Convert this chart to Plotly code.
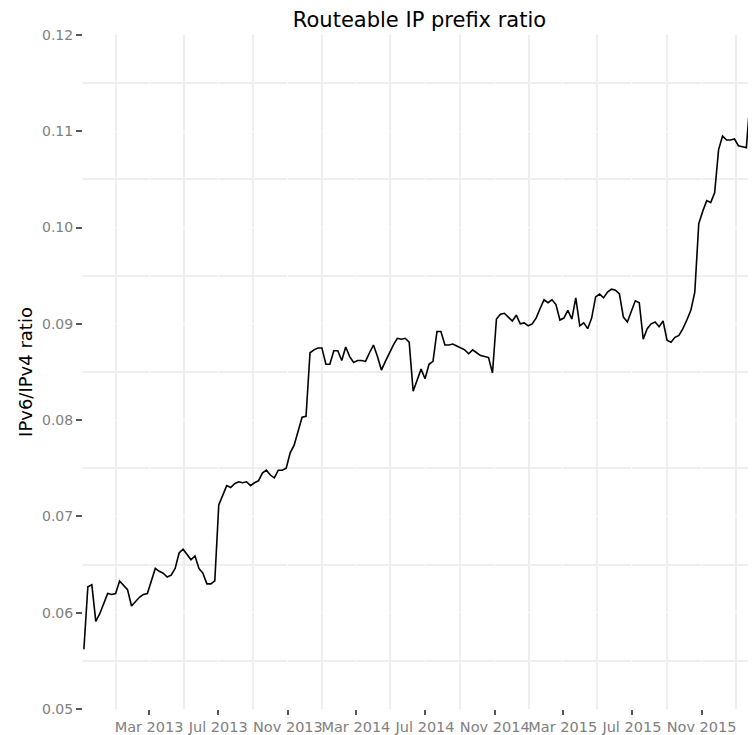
import pandas as pd
import plotly.graph_objects as go

# weekly samples, first one on 2012-11-06
start_date = "2012-11-06"
ratio = [
    0.0562, 0.0627, 0.0629, 0.0591, 0.0599, 0.0609, 0.0620, 0.0619, 0.0620, 0.0633,
    0.0629, 0.0624, 0.0607, 0.0612, 0.0616, 0.0619, 0.0620, 0.0633, 0.0646, 0.0643,
    0.0641, 0.0637, 0.0639, 0.0646, 0.0662, 0.0666, 0.0661, 0.0655, 0.0659, 0.0646,
    0.0641, 0.0630, 0.0630, 0.0633, 0.0712, 0.0723, 0.0732, 0.0730, 0.0734, 0.0736,
    0.0735, 0.0736, 0.0732, 0.0735, 0.0737, 0.0745, 0.0748, 0.0743, 0.0740, 0.0748,
    0.0748, 0.0750, 0.0766, 0.0774, 0.0790, 0.0803, 0.0804, 0.0870, 0.0873, 0.0875,
    0.0875, 0.0858, 0.0858, 0.0872, 0.0872, 0.0862, 0.0876, 0.0866, 0.0860, 0.0862,
    0.0862, 0.0861, 0.0870, 0.0878, 0.0866, 0.0852, 0.0861, 0.0870, 0.0878, 0.0885,
    0.0884, 0.0885, 0.0881, 0.0830, 0.0842, 0.0853, 0.0843, 0.0858, 0.0861, 0.0892,
    0.0892, 0.0878, 0.0878, 0.0879, 0.0877, 0.0875, 0.0873, 0.0869, 0.0873, 0.0870,
    0.0867, 0.0866, 0.0865, 0.0849, 0.0905, 0.0910, 0.0911, 0.0907, 0.0903, 0.0909,
    0.0900, 0.0901, 0.0898, 0.0900, 0.0906, 0.0916, 0.0925, 0.0922, 0.0925, 0.0920,
    0.0904, 0.0906, 0.0914, 0.0905, 0.0927, 0.0898, 0.0901, 0.0895, 0.0906, 0.0928,
    0.0931, 0.0927, 0.0933, 0.0936, 0.0935, 0.0931, 0.0907, 0.0902, 0.0912, 0.0924,
    0.0922, 0.0884, 0.0895, 0.0900, 0.0902, 0.0897, 0.0903, 0.0883, 0.0881, 0.0886,
    0.0888, 0.0895, 0.0904, 0.0914, 0.0933, 0.1004, 0.1017, 0.1028, 0.1026, 0.1036,
    0.1081, 0.1095, 0.1091, 0.1091, 0.1092, 0.1085, 0.1084, 0.1083, 0.1136, 0.1143,
    0.1145,
]
dates = pd.date_range(start_date, periods=len(ratio), freq="7D")

tick_dates = ["2013-03-01", "2013-07-01", "2013-11-01", "2014-03-01", "2014-07-01",
              "2014-11-01", "2015-03-01", "2015-07-01", "2015-11-01"]
tick_labels = ["Mar 2013", "Jul 2013", "Nov 2013", "Mar 2014", "Jul 2014",
               "Nov 2014", "Mar 2015", "Jul 2015", "Nov 2015"]
grid_dates = ["2013-01-01", "2013-05-01", "2013-09-01", "2014-01-01", "2014-05-01",
              "2014-09-01", "2015-01-01", "2015-05-01", "2015-09-01", "2016-01-01"]
y_ticks = [0.05, 0.06, 0.07, 0.08, 0.09, 0.10, 0.11, 0.12]
y_grid = [0.055, 0.065, 0.075, 0.085, 0.095, 0.105, 0.115]

font = "DejaVu Sans"
grid_col = "#eeeeee"

fig = go.Figure()
fig.add_trace(go.Scatter(x=dates, y=ratio, mode="lines",
                         line=dict(color="black", width=1.6)))

# the page body adds an 8px offset, margins below allow for it
fig.update_layout(
    width=756, height=735,
    margin=dict(l=75, r=8, t=27, b=28),
    plot_bgcolor="white", paper_bgcolor="white",
    showlegend=False,
    font=dict(family=font),
    title=dict(text="Routeable IP prefix ratio", x=0.5, xref="paper",
               y=1 - 12 / 735, yref="container", yanchor="middle",
               font=dict(size=21, color="black", family=font)),
)
fig.update_xaxes(
    range=["2012-11-04 10:00", "2016-02-05"],
    tickvals=tick_dates, ticktext=tick_labels, tickangle=0,
    ticks="outside", ticklen=5, tickwidth=2, tickcolor="#555",
    tickfont=dict(size=14.5, color="#808080", family=font),
    showgrid=True, gridcolor="white", gridwidth=1,
    minor=dict(tickvals=grid_dates, showgrid=True, gridcolor=grid_col, gridwidth=1.5, ticks=""),
    zeroline=False, showline=False,
)
fig.update_yaxes(
    range=[0.05, 0.12],
    tickvals=y_ticks, ticktext=[f"{v:.2f}" for v in y_ticks],
    ticks="outside", ticklen=6, tickwidth=2, tickcolor="#555",
    tickfont=dict(size=14, color="#808080", family=font),
    showgrid=True, gridcolor="white", gridwidth=1,
    minor=dict(tickvals=y_grid, showgrid=True, gridcolor=grid_col, gridwidth=1.5, ticks=""),
    zeroline=False, showline=False,
    title=dict(text="IPv6/IPv4 ratio", standoff=4,
               font=dict(size=18, color="black", family=font)),
)

fig.write_html("out.html")
